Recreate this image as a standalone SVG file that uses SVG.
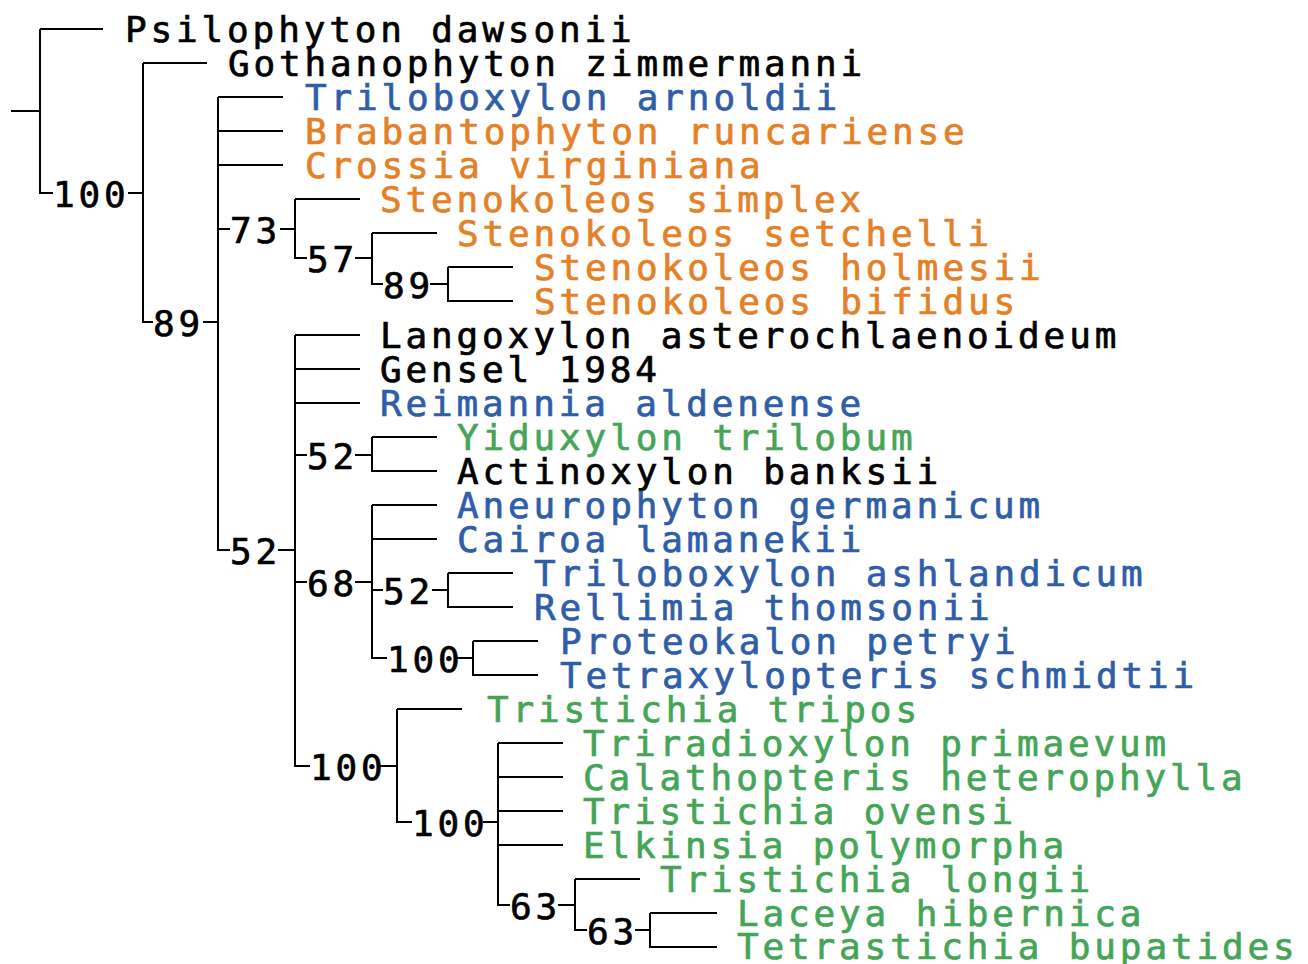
<svg xmlns="http://www.w3.org/2000/svg" width="1308" height="964" viewBox="0 0 1308 964">
<style>
text{font-family:"DejaVu Sans Mono","Liberation Mono",monospace;font-size:36px;letter-spacing:3.85px;stroke-width:0.7px;fill:#000;stroke:#000}
.b{fill:#2F5DA8;stroke:#2F5DA8}
.o{fill:#E58026;stroke:#E58026}
.g{fill:#45A556;stroke:#45A556}
.c path{fill:none;stroke:#000;stroke-width:2}
</style>
<rect width="1308" height="964" fill="#fff"/>
<g id="connectors" class="c">
<path d="M11,111H40M40,29V193H53M40,29H103"/>
<path d="M128,193H143M143,63V322H153M143,63H207"/>
<path d="M203,322H218M218,97V550H230M218,97H283M218,131H283M218,165H283M218,229H230"/>
<path d="M280,229H295M295,199V258H307M295,199H360"/>
<path d="M355,258H372M372,233V284H383M372,233H437"/>
<path d="M430,284H448M448,267V301H513M448,267H513"/>
<path d="M278,550H295M295,335V766H310M295,335H360M295,369H360M295,403H360M295,455H307M295,582H307"/>
<path d="M355,455H372M372,437V471H437M372,437H437"/>
<path d="M355,582H372M372,505V658H387M372,505H437M372,539H437M372,590H383"/>
<path d="M432,590H448M448,573V607H513M448,573H513"/>
<path d="M455,658H473M473,641V675H538M473,641H538"/>
<path d="M380,766H397M397,709V822H412M397,709H462"/>
<path d="M483,822H498M498,743V905H510M498,743H563M498,777H563M498,811H563M498,845H563"/>
<path d="M558,905H575M575,879V930H587M575,879H640"/>
<path d="M635,930H650M650,913V947H717M650,913H717"/>
</g>
<g id="support">
<text id="n1" x="53" y="207">100</text>
<text id="n2" x="153" y="336">89</text>
<text id="n3" x="230" y="243">73</text>
<text id="n4" x="307" y="272">57</text>
<text id="n5" x="383" y="298">89</text>
<text id="n6" x="230" y="564">52</text>
<text id="n7" x="307" y="469">52</text>
<text id="n8" x="307" y="596">68</text>
<text id="n9" x="383" y="604">52</text>
<text id="n10" x="387" y="672">100</text>
<text id="n11" x="310" y="780">100</text>
<text id="n12" x="412" y="836">100</text>
<text id="n13" x="510" y="919">63</text>
<text id="n14" x="587" y="944">63</text>
</g>
<g id="t1"><text x="125" y="42">Psilophyton dawsonii</text></g>
<g id="t2"><text x="228" y="76">Gothanophyton zimmermanni</text></g>
<g id="t3"><text class="b" x="305" y="110">Triloboxylon arnoldii</text></g>
<g id="t4"><text class="o" x="305" y="144">Brabantophyton runcariense</text></g>
<g id="t5"><text class="o" x="305" y="178">Crossia virginiana</text></g>
<g id="t6"><text class="o" x="380" y="212">Stenokoleos simplex</text></g>
<g id="t7"><text class="o" x="457" y="246">Stenokoleos setchelli</text></g>
<g id="t8"><text class="o" x="534" y="280">Stenokoleos holmesii</text></g>
<g id="t9"><text class="o" x="534" y="314">Stenokoleos bifidus</text></g>
<g id="t10"><text x="380" y="348">Langoxylon asterochlaenoideum</text></g>
<g id="t11"><text x="380" y="382">Gensel 1984</text></g>
<g id="t12"><text class="b" x="380" y="416">Reimannia aldenense</text></g>
<g id="t13"><text class="g" x="457" y="450">Yiduxylon trilobum</text></g>
<g id="t14"><text x="457" y="484">Actinoxylon banksii</text></g>
<g id="t15"><text class="b" x="457" y="518">Aneurophyton germanicum</text></g>
<g id="t16"><text class="b" x="457" y="552">Cairoa lamanekii</text></g>
<g id="t17"><text class="b" x="534" y="586">Triloboxylon ashlandicum</text></g>
<g id="t18"><text class="b" x="534" y="620">Rellimia thomsonii</text></g>
<g id="t19"><text class="b" x="560" y="654">Proteokalon petryi</text></g>
<g id="t20"><text class="b" x="560" y="688">Tetraxylopteris schmidtii</text></g>
<g id="t21"><text class="g" x="487" y="722">Tristichia tripos</text></g>
<g id="t22"><text class="g" x="583" y="756">Triradioxylon primaevum</text></g>
<g id="t23"><text class="g" x="583" y="790">Calathopteris heterophylla</text></g>
<g id="t24"><text class="g" x="583" y="824">Tristichia ovensi</text></g>
<g id="t25"><text class="g" x="583" y="858">Elkinsia polymorpha</text></g>
<g id="t26"><text class="g" x="660" y="892">Tristichia longii</text></g>
<g id="t27"><text class="g" x="737" y="926">Laceya hibernica</text></g>
<g id="t28"><text class="g" x="737" y="959">Tetrastichia bupatides</text></g>
</svg>
